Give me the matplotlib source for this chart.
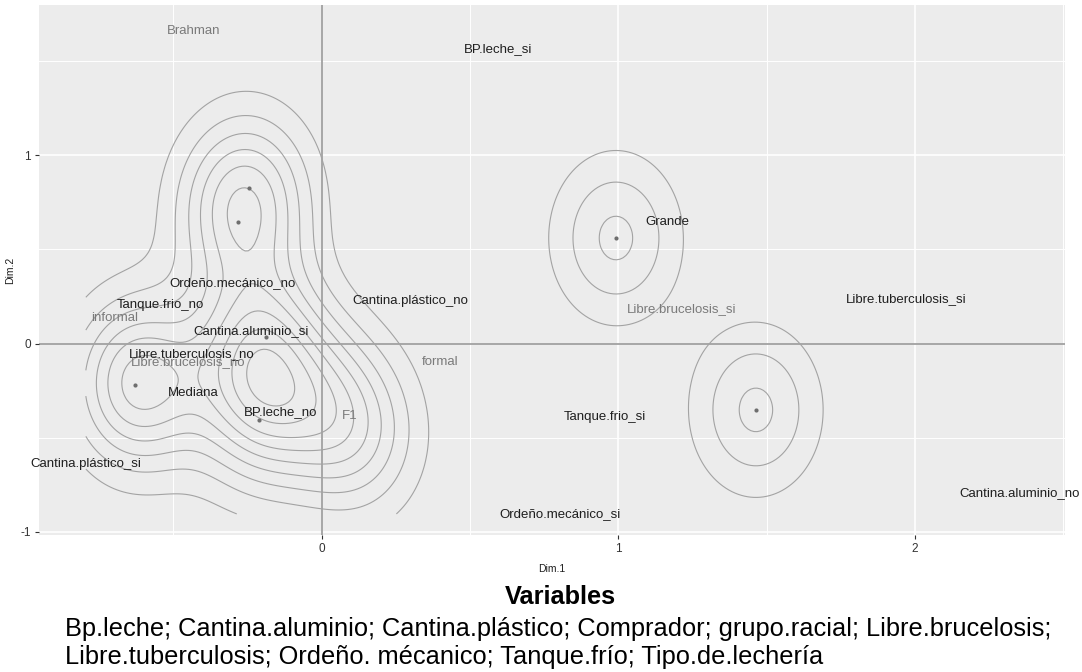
import numpy as np
import matplotlib
matplotlib.use("Agg")
import matplotlib.pyplot as plt

plt.rcParams['font.family'] = ['Liberation Sans', 'DejaVu Sans']

# ---- category labels (MCA coordinates) ----
label_text = ["Brahman", "BP.leche_si", "Grande", "Ordeño.mecánico_no",
              "Cantina.plástico_no", "Libre.tuberculosis_si", "Libre.brucelosis_si",
              "Tanque.frio_no", "informal", "Cantina.aluminio_si",
              "Libre.tuberculosis_no", "Libre.brucelosis_no", "formal", "Mediana",
              "BP.leche_no", "F1", "Tanque.frio_si", "Cantina.plástico_si",
              "Cantina.aluminio_no", "Ordeño.mecánico_si"]
label_x = [-0.43, 0.595, 1.165, -0.301, 0.298, 1.970, 1.213, -0.545, -0.697,
           -0.238, -0.437, -0.451, 0.398, -0.434, -0.137, 0.095, 0.954, -0.795,
           2.352, 0.804]
label_y = [1.66, 1.567, 0.646, 0.321, 0.224, 0.238, 0.185, 0.206, 0.135,
           0.064, -0.055, -0.099, -0.099, -0.261, -0.367, -0.383, -0.392, -0.642,
           -0.797, -0.906]
label_sup = [True, False, False, False, False, False, True, False, True, False,
             False, True, True, False, False, True, False, False, False, False]

# ---- points drawn ----
dot_x = [-0.246, -0.282, -0.629, -0.210, -0.189, 0.992, 1.464]
dot_y = [0.826, 0.646, -0.220, -0.406, 0.034, 0.561, -0.353]

# ---- observations used for the 2-D density (estimated) ----
dens_x = [-0.246, -0.282, -0.629, -0.600, -0.210, -0.189, -0.240, 0.000, 0.120, 0.992, 1.464]
dens_y = [0.826, 0.646, -0.220, -0.200, -0.406, 0.034, -0.120, -0.300, -0.500, 0.561, -0.353]

x_ticks = [0, 1, 2]
y_ticks = [-1, 0, 1]
x_title = "Dim.1"
y_title = "Dim.2"

caption_title = "Variables"
caption_lines = ["Bp.leche; Cantina.aluminio; Cantina.plástico; Comprador; grupo.racial; Libre.brucelosis;",
                 "Libre.tuberculosis; Ordeño. mécanico; Tanque.frío; Tipo.de.lechería"]

fig = plt.figure(figsize=(10.82, 6.72), dpi=100)
ax = fig.add_axes([0.0363, 0.2039, 0.948, 0.7887])
ax.set_facecolor('#ececec')
ax.set_xlim(-0.952, 2.506)
ax.set_ylim(-1.018, 1.80)

# grid
for v in [-0.5, 0.5, 1.5, 2.5]:
    ax.axvline(v, color='white', lw=0.7, zorder=0)
for v in [-0.5, 0.5, 1.5]:
    ax.axhline(v, color='white', lw=0.7, zorder=0)
for v in x_ticks:
    ax.axvline(v, color='white', lw=1.2, zorder=0)
for v in y_ticks:
    ax.axhline(v, color='white', lw=1.2, zorder=0)

ax.axvline(0, color='#a0a0a0', lw=1.3, zorder=1)
ax.axhline(0, color='#a0a0a0', lw=1.3, zorder=1)

# density contours
all_x = list(label_x) + list(dot_x)
all_y = list(label_y) + list(dot_y)
gx = np.linspace(min(all_x), max(all_x), 300)
gy = np.linspace(min(all_y), max(all_y), 300)
GX, GY = np.meshgrid(gx, gy)
sx, sy = 0.148, 0.304
Z = np.zeros_like(GX)
for px, py in zip(dens_x, dens_y):
    Z += np.exp(-0.5 * ((GX - px) / sx) ** 2 - 0.5 * ((GY - py) / sy) ** 2)
levels = 0.31 * np.arange(1, 15)
ax.contour(GX, GY, Z, levels=levels, colors='#a3a3a3', linewidths=0.8, zorder=2)

ax.scatter(dot_x, dot_y, s=9, color='#6e6e6e', zorder=3, linewidths=0)

for t, x, y, s in zip(label_text, label_x, label_y, label_sup):
    ax.text(x, y, t, ha='center', va='center', fontsize=9.5,
            color='#7a7a7a' if s else '#1e1e1e', zorder=4, clip_on=False)

for sp in ax.spines.values():
    sp.set_visible(False)
ax.set_xticks(x_ticks)
ax.set_yticks(y_ticks)
ax.set_xticklabels([str(v) for v in x_ticks])
ax.set_yticklabels([str(v) for v in y_ticks])
ax.tick_params(axis='both', length=3, width=0.8, color='#333333', labelsize=8.5,
               labelcolor='#333333', pad=3)
ax.set_xlabel(x_title, fontsize=7.5, color='#1e1e1e', labelpad=6)
ax.set_ylabel(y_title, fontsize=7.5, color='#1e1e1e', labelpad=4)

fig.text(560 / 1082, 1 - 597 / 672, caption_title, ha='center', va='center',
         fontsize=18.3, fontweight='bold', color='black')
fig.text(65 / 1082, 1 - 629 / 672, caption_lines[0], ha='left', va='center',
         fontsize=18.3, color='black')
fig.text(65 / 1082, 1 - 657 / 672, caption_lines[1], ha='left', va='center',
         fontsize=18.3, color='black')

fig.savefig('out.png', dpi=100, facecolor='white')
